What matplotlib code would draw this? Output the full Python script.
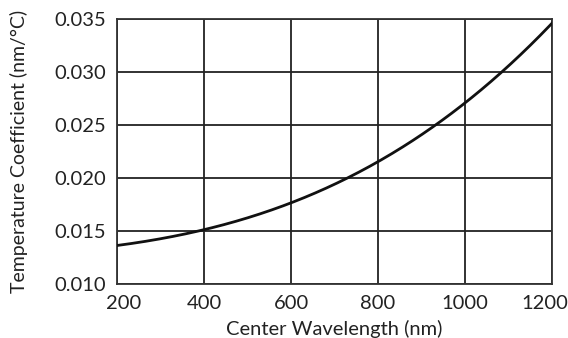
import matplotlib
matplotlib.use("Agg")
import numpy as np
import matplotlib.pyplot as plt
from matplotlib.transforms import ScaledTranslation

# values
wavelength = [200, 300, 400, 500, 600, 724, 800, 900, 935, 1000, 1084, 1100, 1200]
temp_coeff = [0.0137, 0.0142, 0.0150, 0.0162, 0.0178, 0.0200, 0.0216, 0.0238, 0.0250, 0.0272, 0.0300, 0.0306, 0.0346]

xticks = [200, 400, 600, 800, 1000, 1200]
yticks = [0.010, 0.015, 0.020, 0.025, 0.030, 0.035]

plt.rcParams['font.family'] = ['Lato', 'DejaVu Sans']

fig = plt.figure(figsize=(5.68, 3.38), dpi=100)
ax = fig.add_axes([0.206, 0.160, 0.766, 0.784])

# smooth the read points a little with a cubic through them
xs = np.linspace(200, 1200, 400)
coef = np.polyfit(wavelength, temp_coeff, 3)
ax.plot(xs, np.polyval(coef, xs), color='#111111', lw=2.0, zorder=3)

ax.set_xlim(200, 1200)
ax.set_ylim(0.010, 0.035)
ax.set_xticks(xticks)
ax.set_yticks(yticks)
ax.set_yticklabels(["%.3f" % v for v in yticks])
ax.grid(True, color='#222222', lw=1.3)
ax.tick_params(length=0, labelsize=14.5, colors='#222222')
ax.tick_params(axis='x', pad=8)
ax.tick_params(axis='y', pad=8)
for s in ax.spines.values():
    s.set_color('#333333')
    s.set_linewidth(1.3)

# end labels pushed inward like the original
xl = ax.get_xticklabels()
xl[0].set_transform(xl[0].get_transform() + ScaledTranslation(0.07, 0, fig.dpi_scale_trans))
xl[-1].set_transform(xl[-1].get_transform() + ScaledTranslation(-0.07, 0, fig.dpi_scale_trans))

ax.set_xlabel("Center Wavelength (nm)", fontsize=14.5, labelpad=6, color='#222222')
ax.set_ylabel("Temperature Coefficient (nm/°C)", fontsize=14, labelpad=19, color='#222222')

fig.savefig("out.png", dpi=100)
